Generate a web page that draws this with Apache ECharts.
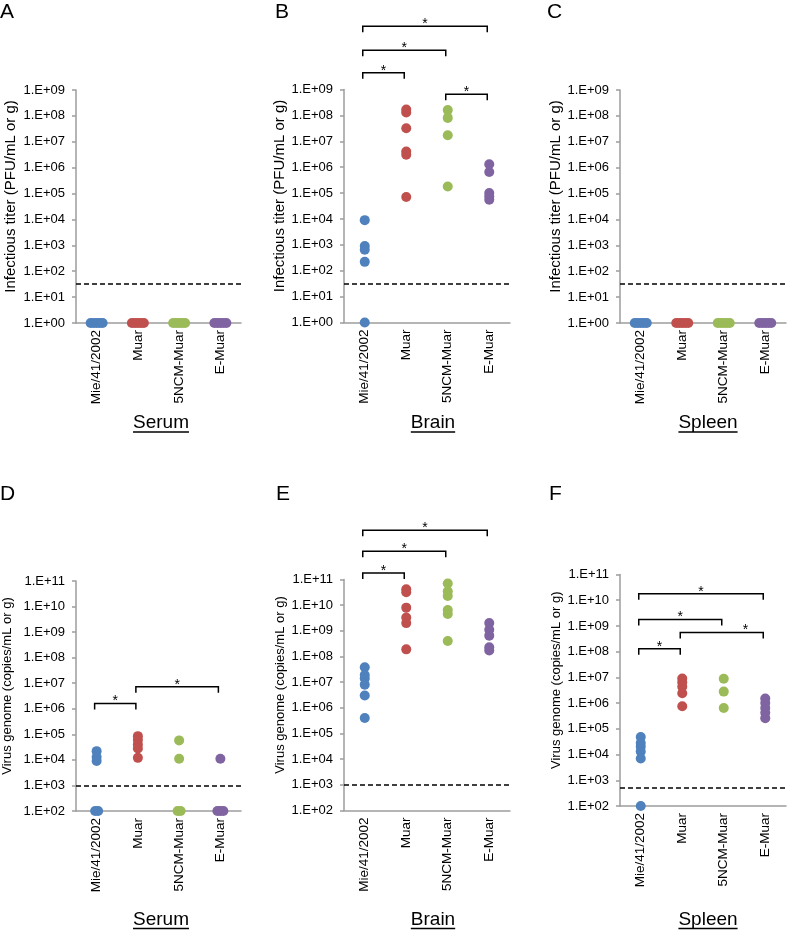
<!DOCTYPE html>
<html>
<head>
<meta charset="utf-8">
<script src="https://cdn.jsdelivr.net/npm/echarts@6/dist/echarts.min.js"></script>
<style>
  html, body { margin: 0; padding: 0; background: #fff; }
  #chart { width: 787px; height: 930px; }
</style>
</head>
<body>
<div id="chart"></div>
<script>
// categories
const groups = ['Mie/41/2002', 'Muar', '5NCM-Muar', 'E-Muar'];
const groupColors = ['#4F81BD', '#C0504D', '#9BBB59', '#8064A2'];

// infectious titer (PFU/mL or g), one list per virus
const serumTiter = [[1, 1, 1, 1, 1], [1, 1, 1, 1, 1], [1, 1, 1, 1, 1], [1, 1, 1, 1, 1]];
const brainTiter = [
  [9000, 900, 650, 220, 1],
  [1.7e8, 1.3e8, 3.2e7, 4e6, 3e6, 7e4],
  [1.6e8, 8e7, 1.7e7, 1.8e5],
  [1.3e6, 6.5e5, 1e5, 7.5e4, 5.5e4]
];
const spleenTiter = [[1, 1, 1, 1, 1], [1, 1, 1, 1, 1], [1, 1, 1, 1, 1], [1, 1, 1, 1, 1]];

// virus genome (copies/mL or g)
const serumGenome = [
  [2.2e4, 1.3e4, 9e3, 100, 100],
  [8.5e4, 6e4, 4e4, 2.8e4, 1.2e4],
  [5.8e4, 1.1e4, 100, 100],
  [1.1e4, 100, 100, 100]
];
const brainGenome = [
  [3.8e7, 1.9e7, 1.4e7, 8e6, 3e6, 4e5],
  [4.2e10, 3.2e10, 8e9, 3.3e9, 2e9, 1.9e8],
  [7e10, 3.5e10, 2.3e10, 6.5e9, 4.5e9, 4e8],
  [2e9, 1.1e9, 6.5e8, 2.3e8, 1.7e8]
];
const spleenGenome = [
  [4.8e4, 2.8e4, 2e4, 1.3e4, 7e3, 100],
  [9e6, 6.5e6, 4.3e6, 2.4e6, 7.5e5],
  [8.8e6, 2.8e6, 6.5e5],
  [1.5e6, 1e6, 6.5e5, 4.2e5, 2.6e5]
];

// detection limits
const titerLimit = 31.6;
const genomeLimit = [1000, 1000, 500];

// significance brackets: [from group, to group, bracket level]
const serumTiterSig = [];
const brainTiterSig = [[0, 1, 4.4e9], [0, 2, 3.3e10], [0, 3, 2.75e11], [2, 3, 6.6e8]];
const spleenTiterSig = [];
const serumGenomeSig = [[0, 1, 1.6e6], [1, 3, 7.2e6]];
const brainGenomeSig = [[0, 1, 1.8e11], [0, 2, 1.26e12], [0, 3, 8.3e12]];
const spleenGenomeSig = [[0, 1, 1.3e8], [0, 2, 1.8e9], [1, 3, 5.6e8], [0, 3, 1.8e10]];

const titerName = 'Infectious titer (PFU/mL or g)';
const genomeName = 'Virus genome (copies/mL or g)';
const letters = ['A', 'B', 'C', 'D', 'E', 'F'];
const organs = ['Serum', 'Brain', 'Spleen'];

const FONT = '"Liberation Sans", Arial, sans-serif';
const AXIS_GRAY = '#9d9d9d';

const panels = [
  { data: serumTiter, sig: serumTiterSig, limit: titerLimit, min: 1, max: 1e9, name: titerName,
    nameSize: 15, nameGap: 58, grid: { left: 76, top: 90, width: 165, height: 233 } },
  { data: brainTiter, sig: brainTiterSig, limit: titerLimit, min: 1, max: 1e9, name: titerName,
    nameSize: 15, nameGap: 54, grid: { left: 344, top: 89.5, width: 166, height: 233 } },
  { data: spleenTiter, sig: spleenTiterSig, limit: titerLimit, min: 1, max: 1e9, name: titerName,
    nameSize: 15, nameGap: 56, grid: { left: 620, top: 90, width: 166, height: 233 } },
  { data: serumGenome, sig: serumGenomeSig, limit: genomeLimit[0], min: 100, max: 1e11, name: genomeName,
    nameSize: 13, nameGap: 62, grid: { left: 76, top: 581, width: 165, height: 230 } },
  { data: brainGenome, sig: brainGenomeSig, limit: genomeLimit[1], min: 100, max: 1e11, name: genomeName,
    nameSize: 13, nameGap: 57, grid: { left: 344, top: 579.5, width: 166, height: 231 } },
  { data: spleenGenome, sig: spleenGenomeSig, limit: genomeLimit[2], min: 100, max: 1e11, name: genomeName,
    nameSize: 13, nameGap: 57, grid: { left: 620, top: 574.5, width: 166, height: 231.5 } }
];

function fmtExp(v) {
  const e = Math.round(Math.log10(v));
  return '1.E+' + String(e).padStart(2, '0');
}

// points sitting on the axis floor are spread sideways so they show as a row
function spreadPoints(values, floor, gi) {
  const atFloor = values.filter((v) => v === floor).length;
  let k = 0;
  return values.map((v) => {
    let dx = 0;
    if (v === floor && atFloor > 1) {
      dx = (k - (atFloor - 1) / 2) * 3;
      k++;
    }
    return { value: [gi, v], symbolOffset: [dx, 0] };
  });
}

function makeBracket(sig) {
  return function (params, api) {
    const a = api.coord([api.value(0), api.value(2)]);
    const b = api.coord([api.value(1), api.value(2)]);
    let starX = (a[0] + b[0]) / 2 - 2;
    // keep the star clear of a bracket end hanging just above it
    sig.forEach((o, oi) => {
      if (oi === params.dataIndex) return;
      const oe = api.coord([o[1], o[2]]);
      if (oe[1] < a[1] && a[1] - oe[1] < 22 && Math.abs(oe[0] - starX) < 10) {
        starX = (oe[0] + b[0]) / 2 + 1;
      }
    });
    return {
      type: 'group',
      children: [
        {
          type: 'polyline',
          shape: { points: [[a[0] - 2, a[1] + 6], [a[0] - 2, a[1]], [b[0] - 2, b[1]], [b[0] - 2, b[1] + 6]] },
          style: { stroke: '#000', fill: null, lineWidth: 1.5 }
        },
        {
          type: 'text',
          style: {
            text: '*', x: starX, y: a[1] + 5,
            align: 'center', verticalAlign: 'bottom', font: '14px ' + FONT, fill: '#000'
          }
        }
      ]
    };
  };
}

const grids = [], xAxes = [], yAxes = [], series = [];

panels.forEach((p, pi) => {
  grids.push(p.grid);
  xAxes.push({
    type: 'category',
    gridIndex: pi,
    data: groups,
    boundaryGap: true,
    axisLine: { lineStyle: { color: AXIS_GRAY, width: 1.5 } },
    axisTick: { show: false },
    axisLabel: { rotate: 90, margin: 7, color: '#000', fontSize: 13.5, fontFamily: FONT }
  });
  yAxes.push({
    type: 'log',
    logBase: 10,
    gridIndex: pi,
    min: p.min,
    max: p.max,
    splitNumber: 10,
    name: p.name,
    nameLocation: 'middle',
    nameGap: p.nameGap,
    nameTextStyle: { color: '#000', fontSize: p.nameSize, fontFamily: FONT, padding: [0, 0, 0, 20] },
    axisLine: { show: true, lineStyle: { color: AXIS_GRAY, width: 1.5 } },
    axisTick: { show: true, length: 4, lineStyle: { color: AXIS_GRAY, width: 1.5 } },
    axisLabel: { margin: 11, color: '#000', fontSize: 13, fontFamily: FONT, formatter: fmtExp },
    splitLine: { show: false },
    minorTick: { show: false }
  });

  p.data.forEach((values, gi) => {
    const s = {
      type: 'scatter',
      xAxisIndex: pi,
      yAxisIndex: pi,
      symbolSize: 10,
      itemStyle: { color: groupColors[gi], opacity: 1 },
      data: spreadPoints(values, p.min, gi),
      silent: true,
      z: 3
    };
    if (gi === 0) {
      s.markLine = {
        silent: true,
        symbol: ['none', 'none'],
        label: { show: false },
        lineStyle: { color: '#000', type: [5, 3], width: 1.5 },
        data: [{ yAxis: p.limit }],
        z: 2
      };
    }
    series.push(s);
  });

  if (p.sig.length) {
    series.push({
      type: 'custom',
      xAxisIndex: pi,
      yAxisIndex: pi,
      clip: false,
      silent: true,
      encode: { x: [0, 1], y: 2 },
      data: p.sig,
      renderItem: makeBracket(p.sig)
    });
  }
});

// panel letters and underlined organ titles
const letterPos = [[0, 12.5], [275, 12.5], [547, 12.5], [0, 494], [276, 494], [549, 494]];
const titleCenters = [161, 433, 708];
const titleRows = [423, 919.5];

const measure = document.createElement('canvas').getContext('2d');
measure.font = '19px ' + FONT;

const graphic = [];
letters.forEach((l, i) => {
  graphic.push({
    type: 'text',
    x: letterPos[i][0], y: letterPos[i][1],
    style: { text: l, font: '21px ' + FONT, fill: '#000', align: 'left', verticalAlign: 'middle' }
  });
});
titleRows.forEach((ty) => {
  organs.forEach((o, i) => {
    const w = measure.measureText(o).width;
    const cx = titleCenters[i];
    graphic.push({
      type: 'text',
      x: cx, y: ty,
      style: { text: o, font: '19px ' + FONT, fill: '#000', align: 'center', verticalAlign: 'middle' }
    });
    graphic.push({
      type: 'line',
      shape: { x1: cx - w / 2, y1: ty + 9, x2: cx + w / 2, y2: ty + 9 },
      style: { stroke: '#000', lineWidth: 1.3 }
    });
  });
});

const chart = echarts.init(document.getElementById('chart'), null, { renderer: 'canvas' });
chart.setOption({
  backgroundColor: '#fff',
  animation: false,
  grid: grids,
  xAxis: xAxes,
  yAxis: yAxes,
  series: series,
  graphic: graphic
});
</script>
</body>
</html>
